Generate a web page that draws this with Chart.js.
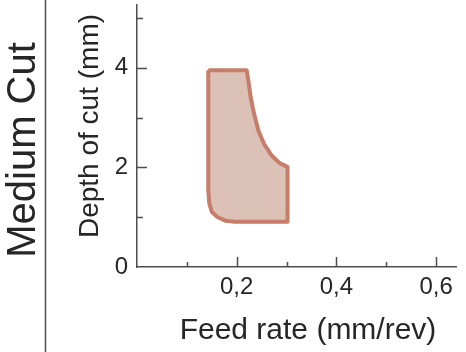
<!DOCTYPE html>
<html>
<head>
<meta charset="utf-8">
<script src="https://cdn.jsdelivr.net/npm/chart.js@4/dist/chart.umd.min.js"></script>
<style>
  body { margin: 0; background: #fff; }
  #wrap { width: 466px; height: 352px; }
</style>
</head>
<body>
<div id="wrap"><canvas id="chart" width="466" height="352"></canvas></div>
<script>
// outline of the medium cut working area, clockwise from top left
var shapeFeed  = [0.143, 0.220, 0.2235, 0.228, 0.235, 0.2435, 0.255, 0.270, 0.287, 0.302, 0.302, 0.197, 0.177, 0.160, 0.150, 0.145, 0.143, 0.143];
var shapeDepth = [3.95, 3.95, 3.74, 3.41, 3.07, 2.74, 2.47, 2.24, 2.08, 2.01, 0.91, 0.91, 0.93, 1.01, 1.11, 1.28, 1.55, 3.95];

var xLabelTicks = [0.2, 0.4, 0.6];
var xMinorTicks = [0.1, 0.3, 0.5];
var yLabelTicks = [0, 2, 4];
var yMinorTicks = [1, 3, 5];

var textColor = '#262626';
var axisColor = '#4d4d4d';
var fontFamily = '"Liberation Sans", Arial, sans-serif';

var points = shapeFeed.map(function (f, i) { return { x: f, y: shapeDepth[i] }; });

// inward tick marks, side panel and axis titles
var decorations = {
    id: 'decorations',
    afterDraw: function (chart) {
        var ctx = chart.ctx;
        var area = chart.chartArea;
        var xs = chart.scales.x, ys = chart.scales.y;
        ctx.save();
        ctx.strokeStyle = axisColor;
        ctx.lineWidth = 1.5;
        ctx.beginPath();
        xLabelTicks.concat(xMinorTicks).forEach(function (v) {
            var len = xLabelTicks.indexOf(v) >= 0 ? 10 : 5;
            var px = Math.round(xs.getPixelForValue(v)) + 0.5;
            ctx.moveTo(px, area.bottom);
            ctx.lineTo(px, area.bottom - len);
        });
        yLabelTicks.concat(yMinorTicks).forEach(function (v) {
            if (v === 0) return;
            var len = yLabelTicks.indexOf(v) >= 0 ? 10 : 6;
            var py = Math.round(ys.getPixelForValue(v)) + 0.5;
            ctx.moveTo(area.left, py);
            ctx.lineTo(area.left + len, py);
        });
        // separator of the side panel
        ctx.moveTo(45.5, 0);
        ctx.lineTo(45.5, chart.height);
        ctx.stroke();

        ctx.fillStyle = textColor;
        ctx.textAlign = 'center';
        ctx.textBaseline = 'alphabetic';

        ctx.save();
        ctx.translate(35, 150);
        ctx.rotate(-Math.PI / 2);
        ctx.font = '40px ' + fontFamily;
        ctx.fillText('Medium Cut', 0, 0);
        ctx.restore();

        ctx.save();
        ctx.translate(98, 126);
        ctx.rotate(-Math.PI / 2);
        ctx.font = '28px ' + fontFamily;
        ctx.fillText('Depth of cut (mm)', 0, 0);
        ctx.restore();

        ctx.font = '30px ' + fontFamily;
        ctx.fillText('Feed rate (mm/rev)', 308, 339);
        ctx.restore();
    }
};

new Chart(document.getElementById('chart'), {
    type: 'scatter',
    data: {
        datasets: [{
            label: 'Medium Cut',
            data: points,
            showLine: true,
            fill: 'shape',
            tension: 0,
            borderColor: '#c67d6a',
            backgroundColor: '#dcc1b7',
            borderWidth: 4,
            borderJoinStyle: 'round',
            pointRadius: 0,
            pointHoverRadius: 0
        }]
    },
    options: {
        responsive: false,
        animation: false,
        devicePixelRatio: 1,
        layout: { padding: { top: 5, right: 10, left: 0, bottom: 0 } },
        plugins: {
            legend: { display: false },
            tooltip: { enabled: false }
        },
        scales: {
            x: {
                type: 'linear',
                min: 0,
                max: 0.64,
                grid: { display: false, drawTicks: false },
                border: { display: true, color: axisColor, width: 1.5 },
                afterBuildTicks: function (scale) {
                    scale.ticks = xLabelTicks.map(function (v) { return { value: v }; });
                },
                afterFit: function (scale) {
                    scale.height = 85;
                    scale.paddingLeft = 0;
                    scale.paddingRight = 0;
                },
                ticks: {
                    padding: 6,
                    color: textColor,
                    font: { family: fontFamily, size: 24 },
                    maxRotation: 0,
                    callback: function (v) { return v.toFixed(1).replace('.', ','); }
                }
            },
            y: {
                type: 'linear',
                min: 0,
                max: 5.26,
                grid: { display: false, drawTicks: false },
                border: { display: true, color: axisColor, width: 1.5 },
                afterBuildTicks: function (scale) {
                    scale.ticks = yLabelTicks.map(function (v) { return { value: v }; });
                },
                afterFit: function (scale) {
                    scale.width = 137;
                    scale.paddingTop = 0;
                    scale.paddingBottom = 0;
                },
                ticks: {
                    padding: 9,
                    color: textColor,
                    font: { family: fontFamily, size: 24 },
                    callback: function (v) { return String(v); }
                }
            }
        }
    },
    plugins: [decorations]
});
</script>
</body>
</html>
